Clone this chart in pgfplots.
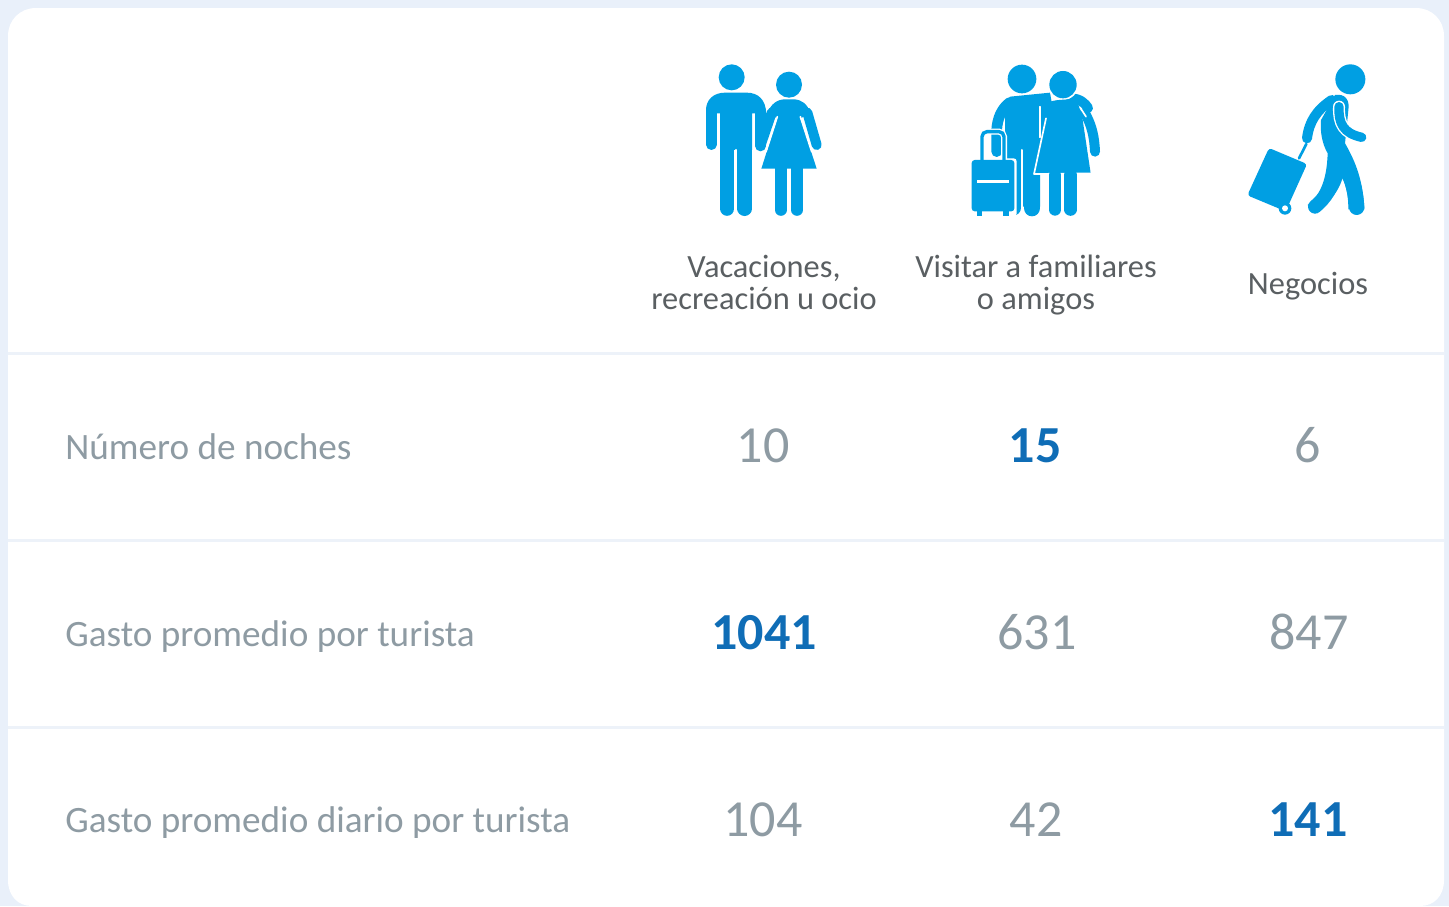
\documentclass[border=0pt]{standalone}
\usepackage{pgfplots}
\pgfplotsset{compat=1.18}
\usepackage{fontspec}
\setmainfont{Carlito}
\definecolor{bgc}{HTML}{E9F0FA}
\definecolor{linec}{HTML}{EDF2F9}
\definecolor{iconc}{HTML}{009FE3}
\definecolor{boldc}{HTML}{0F6DB6}
\definecolor{grayc}{HTML}{8E9BA3}
\definecolor{headc}{HTML}{5A5F62}
\pgfplotsset{
  txt/.style={only marks, mark=none, draw=none, point meta=explicit symbolic,
    nodes near coords,
    every node near coord/.append style={anchor=base, inner sep=0pt, font=#1}},
}
\tikzset{
  limb/.style={draw=iconc, line width=#1*0.16667pt, line cap=round, line join=round},
  wl/.style={draw=white, line width=#1*0.16667pt, line cap=round, line join=round},
  ic/.style={fill=iconc, draw=none},
}
\begin{document}
\begin{tikzpicture}
\begin{axis}[
  at={(0,0)}, anchor=south west,
  scale only axis, width=724.5pt, height=453pt,
  xmin=0, xmax=1449, ymin=0, ymax=906, y dir=reverse,
  hide axis, clip=false,
]
\fill[bgc] (0,0) rectangle (1449,906);
\fill[white] (36,8) -- (1416,8) .. controls (1432,8) and (1444,20) .. (1444,36)
  -- (1444,880) .. controls (1444,896) and (1434,906) .. (1420,906)
  -- (32,906) .. controls (18,906) and (8,896) .. (8,880)
  -- (8,36) .. controls (8,20) and (20,8) .. (36,8) -- cycle;
\addplot[linec, line width=1.5pt] coordinates {(8,353) (1444,353)};
\addplot[linec, line width=1.5pt] coordinates {(8,540) (1444,540)};
\addplot[linec, line width=1.5pt] coordinates {(8,727) (1444,727)};
% row labels
\addplot[txt={\fontsize{18.6}{19}\selectfont\color{grayc}},
  every node near coord/.append style={anchor=base west}]
  table[col sep=comma, row sep=\\, meta=label, x=x, y=y]{
  x,y,label\\
  65,459,Número de noches\\
  65,646,Gasto promedio por turista\\
  65,832,Gasto promedio diario por turista\\
};
% plain values
\addplot[txt={\fontsize{26}{26}\selectfont\color{grayc}}]
  table[col sep=comma, row sep=\\, meta=label, x=x, y=y]{
  x,y,label\\
  763,462,10\\
  1308,462,6\\
  1037,649,631\\
  1309,649,847\\
  763,836,104\\
  1036,836,42\\
};
% highlighted values
\addplot[txt={\fontsize{26}{26}\selectfont\bfseries\color{boldc}}]
  table[col sep=comma, row sep=\\, meta=label, x=x, y=y]{
  x,y,label\\
  1035,462,15\\
  764,649,1041\\
  1308,836,141\\
};
% headers
\addplot[txt={\fontsize{16.2}{17}\selectfont\color{headc}}]
  table[col sep=comma, row sep=\\, meta=label, x=x, y=y]{
  x,y,label\\
  764,277,{Vacaciones,}\\
  764,309,recreación u ocio\\
  1036,277,Visitar a familiares\\
  1036,309,o amigos\\
  1308,294,Negocios\\
};
\end{axis}
% ---------- icon 1 : couple
\begin{scope}[x=0.16667pt, y=-0.16667pt, shift={(345pt,428pt)}]
\fill[ic] (125,82) circle (39);
\fill[ic] (297,104) circle (39);
% man
\fill[ic] (48,180) .. controls (48,150) and (70,128) .. (105,128)
  -- (170,128) .. controls (205,128) and (228,150) .. (228,190)
  -- (196,190) -- (186,190) -- (186,300) -- (90,300) -- (90,190) -- (48,190) -- cycle;
\path[limb=32] (64,180) -- (64,284);
\path[limb=32] (212,180) -- (212,288);
\path[limb=43] (111.5,290) -- (111.5,476);
\path[limb=44] (164,290) -- (164,476);
\path[wl=7] (137.5,300) -- (137.5,510);
% woman
\fill[ic] (232,190) .. controls (242,162) and (262,148) .. (285,148)
  -- (310,148) .. controls (335,148) and (352,162) .. (362,190)
  -- (331,205) -- (380,356) -- (214,356) -- (262,205) -- cycle;
\path[limb=30] (245,188) -- (212,285);
\path[limb=30] (352,188) -- (380,285);
\path[wl=5] (262,200) -- (228,305);
\path[wl=5] (331,200) -- (365,305);
\path[limb=35] (272.5,350) -- (272.5,480);
\path[limb=35] (321,350) -- (321,480);
\end{scope}
% ---------- icon 2 : couple with suitcase
\begin{scope}[x=0.16667pt, y=-0.16667pt, shift={(480pt,428pt)}]
\fill[ic] (186,87) circle (43);
% man's far arm and body
\path[limb=32] (110,305) -- (110,240) .. controls (112,205) and (125,175) .. (150,157);
\fill[ic] (150,140) -- (270,128) -- (300,300) -- (240,300) -- (240,470) -- (135,470) -- (135,170) -- cycle;
\path[limb=50] (216,300) -- (216,474);
\path[limb=45] (160,300) -- (160,474);
\path[wl=6] (186,300) -- (186,510);
\path[limb=30] (330,145) .. controls (360,145) and (375,160) .. (384,174);
% woman
\fill[white] (309,104) circle (46);
\fill[ic] (309,104) circle (41);
\fill[ic] (258,205) -- (250,170) .. controls (265,150) and (290,150) .. (330,148) .. controls (350,150) and (360,170) .. (365,190)
  -- (392,370) -- (222,372) -- cycle;
\path[wl=5] (240,170) -- (240,262);
\path[wl=5] (258,205) -- (222,372) -- (392,370);
\path[limb=30] (375,190) .. controls (395,225) and (403,260) .. (405,305);
\path[wl=5] (360,172) -- (378,200);
\path[limb=36] (285,375) -- (285,479);
\path[limb=37] (331.5,375) -- (331.5,479);
% suitcase
\fill[white, rounded corners=1.5pt] (25,325) rectangle (170,500);
\path[draw=white, line width=3pt, rounded corners=2.5pt] (66,330) -- (66,245) -- (132,245) -- (132,330);
\path[draw=iconc, line width=1.7pt, rounded corners=2.5pt] (66,330) -- (66,245) -- (132,245) -- (132,330);
\fill[iconc, rounded corners=1.5pt] (35,330) rectangle (163,484);
\fill[iconc] (50,480) rectangle (66,497);
\fill[iconc] (130,480) rectangle (147,497);
\fill[white] (50,390) rectangle (147,398);
\end{scope}
% ---------- icon 3 : walking with suitcase
\begin{scope}[x=0.16667pt, y=-0.16667pt, shift={(617.5pt,428pt)}]
\fill[ic] (346,88) circle (45);
% suitcase
\fill[ic, rounded corners=1.5pt] (102,294) -- (216,342) -- (152,484) -- (37,436) -- cycle;
\path[limb=8] (192,325) -- (214,282);
\fill[ic] (150,475) circle (19);
\fill[white] (150,475) circle (9);
% body
\path[limb=30] (290,150) .. controls (245,180) and (222,215) .. (216,265);
\fill[ic] (300,135) .. controls (330,130) and (345,150) .. (340,180)
  -- (330,280) .. controls (365,340) and (385,400) .. (388,478) -- (340,478)
  .. controls (340,440) and (335,410) .. (322,385)
  .. controls (310,430) and (270,470) .. (240,490) -- (218,465)
  .. controls (250,440) and (275,400) .. (278,310)
  .. controls (260,280) and (255,240) .. (258,210) -- cycle;
\path[limb=42] (240,470) .. controls (270,445) and (295,410) .. (300,360);
\path[limb=46] (365,472) .. controls (362,420) and (345,360) .. (310,300);
% front arm with outline
\path[wl=36] (312,170) .. controls (310,220) and (325,250) .. (380,262);
\path[limb=28] (312,170) .. controls (310,220) and (325,250) .. (380,262);
\end{scope}
\end{tikzpicture}
\end{document}
